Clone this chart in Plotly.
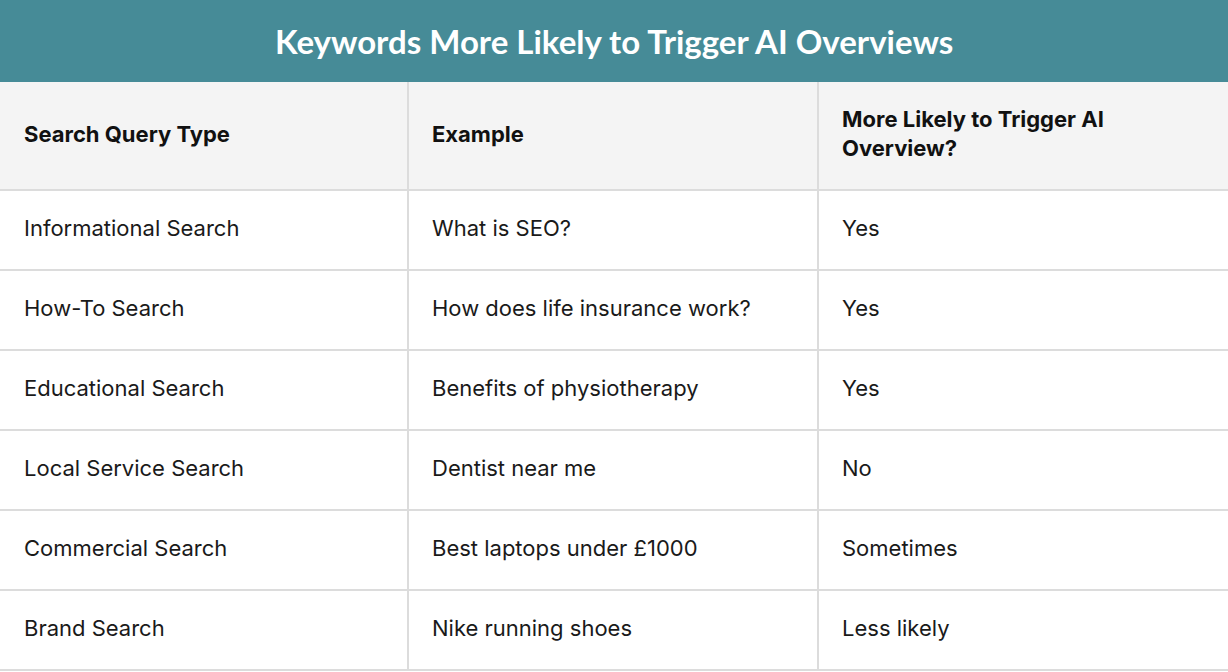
import plotly.graph_objects as go

title = "Keywords More Likely to Trigger AI Overviews"
headers = ["Search Query Type", "Example", "More Likely to Trigger AI<br>Overview?"]
query_types = ["Informational Search", "How-To Search", "Educational Search",
               "Local Service Search", "Commercial Search", "Brand Search"]
examples = ["What is SEO?", "How does life insurance work?", "Benefits of physiotherapy",
            "Dentist near me", "Best laptops under £1000", "Nike running shoes"]
likely = ["Yes", "Yes", "Yes", "No", "Sometimes", "Less likely"]

col_edges = [0, 408, 818, 1228]
header_h = 108
row_h = 80
W, H = 1228, 672
title_h = 82
grid = "#dcdcdc"

n = len(query_types)
body_top = n * row_h  # y measured upward from bottom of table
total = body_top + header_h

fig = go.Figure()
shapes = []
# header background
shapes.append(dict(type="rect", x0=0, x1=W, y0=body_top, y1=total, fillcolor="#f4f4f4", line_width=0, layer="below"))
# horizontal lines
for i in range(n + 1):
    y = i * row_h
    shapes.append(dict(type="line", x0=0, x1=W, y0=y, y1=y, line=dict(color=grid, width=2)))
# vertical lines
for x in col_edges[1:-1]:
    shapes.append(dict(type="line", x0=x, x1=x, y0=0, y1=total, line=dict(color=grid, width=2)))
# title bar
shapes.append(dict(type="rect", xref="paper", yref="paper", x0=0, x1=1, y0=1 - title_h / H, y1=1,
                   fillcolor="#468b97", line_width=0))

xs = [e + 24 for e in col_edges[:-1]]
fig.add_trace(go.Scatter(x=xs, y=[body_top + header_h / 2] * 3, text=["<b>%s</b>" % h for h in headers],
                         mode="text", textposition="middle right",
                         textfont=dict(family="Inter", size=22, color="#111111"), hoverinfo="skip"))
for col, vals in zip(xs, [query_types, examples, likely]):
    fig.add_trace(go.Scatter(x=[col] * n, y=[body_top - (i + 0.5) * row_h for i in range(n)], text=vals,
                             mode="text", textposition="middle right",
                             textfont=dict(family="Inter", size=22, color="#1a1a1a"), hoverinfo="skip"))

fig.add_annotation(text="<b>%s</b>" % title, xref="paper", yref="paper", x=0.5, y=1 - title_h / 2 / H,
                   yanchor="middle", xanchor="center",
                   showarrow=False, font=dict(family="Lato", size=33, color="white"))

fig.update_layout(width=W, height=H, margin=dict(l=0, r=0, t=0, b=0), showlegend=False,
                  paper_bgcolor="white", plot_bgcolor="white", shapes=shapes,
                  xaxis=dict(range=[0, W], visible=False, fixedrange=True),
                  yaxis=dict(range=[-2, total + 0], visible=False, fixedrange=True,
                             domain=[0, 1 - title_h / H]))
fig.write_html("out.html", config={"displayModeBar": False},
               post_script="document.body.style.margin='0';document.body.style.overflow='hidden';")
